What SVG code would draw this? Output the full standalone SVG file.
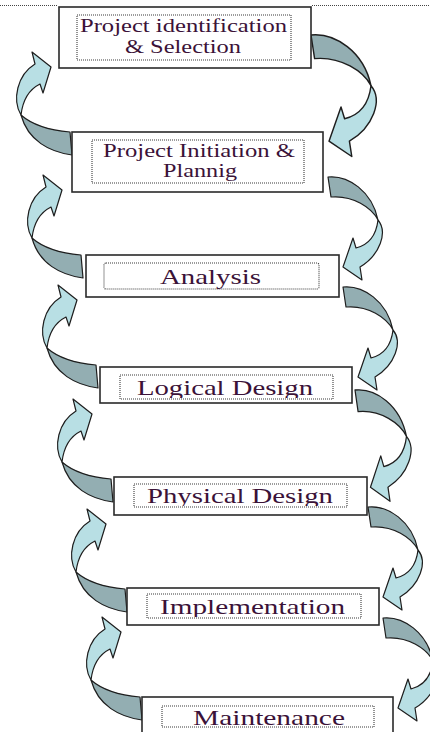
<svg xmlns="http://www.w3.org/2000/svg" width="430" height="732" viewBox="0 0 430 732">
  <style>
    .box { fill: #ffffff; stroke: #2a2a2a; stroke-width: 1.6; }
    .frame { fill: none; stroke: #3a3a3a; stroke-width: 1.1; stroke-dasharray: 1 1; }
    .label { font-family: "Liberation Serif", "Times New Roman", serif; fill: #3b1238; text-anchor: start; }
    .back { fill: #93aeb2; stroke: #1e1e1e; stroke-width: 1.2; stroke-linejoin: round; }
    .front { fill: #b8dfe4; stroke: #1e1e1e; stroke-width: 1.2; stroke-linejoin: round; }
    .rule { stroke: #444; stroke-width: 1; stroke-dasharray: 1 1; }
  </style>
  <defs>
    <!-- curved 3D arrow on the right: leaves a box's right edge, bends down into the next box -->
    <g id="arrowRight">
      <path class="back" d="M0,0 C20,-2 44,14 50,43 C44,31 25,18 3,20 Z"/>
      <path class="front" d="M50,43 C60,55 52,78 32,90 L34,103 L15,90 L25,61 L28,71 C40,68 48,60 50,43 Z"/>
    </g>
    <!-- curved 3D arrow on the left: leaves a box's left edge, bends up into the previous box -->
    <g id="arrowLeft">
      <path class="back" d="M0,0 C-22,-3 -44,-14 -51,-40 C-42,-32 -25,-25 -2,-23 Z"/>
      <path class="front" d="M-51,-40 C-60,-55 -55,-80 -37,-91 L-40,-103 L-21,-88 L-29,-62 L-32,-71 C-42,-66 -49,-57 -51,-40 Z"/>
    </g>
    <clipPath id="clip4"><rect x="120" y="375" width="213" height="23"/></clipPath>
    <clipPath id="clip5"><rect x="134" y="484" width="213" height="22"/></clipPath>
    <clipPath id="clip6"><rect x="147" y="594" width="214" height="23"/></clipPath>
    <clipPath id="clip7"><rect x="162" y="706" width="212" height="21"/></clipPath>
  </defs>

  <rect x="0" y="0" width="430" height="732" fill="#ffffff"/>

  <!-- page rule along the top -->
  <line class="rule" x1="0" y1="5.5" x2="58" y2="5.5"/>
  <line class="rule" x1="312" y1="5.5" x2="430" y2="5.5"/>

  <g id="connectors">
    <use href="#arrowRight" transform="translate(311,35) scale(1.2,1.18)"/>
    <use href="#arrowRight" transform="translate(328,177)"/>
    <use href="#arrowRight" transform="translate(343,287)"/>
    <use href="#arrowRight" transform="translate(355,390) scale(1.03,1.08)"/>
    <use href="#arrowRight" transform="translate(368,507)"/>
    <use href="#arrowRight" transform="translate(383,618)"/>

    <use href="#arrowLeft" transform="translate(72,155)"/>
    <use href="#arrowLeft" transform="translate(83,278)"/>
    <use href="#arrowLeft" transform="translate(98,388)"/>
    <use href="#arrowLeft" transform="translate(113,502)"/>
    <use href="#arrowLeft" transform="translate(127,612)"/>
    <use href="#arrowLeft" transform="translate(142,720)"/>
  </g>

  <g id="identification">
    <rect class="box" x="59" y="7" width="252" height="61"/>
    <rect class="frame" x="77" y="15" width="214" height="45"/>
    <text class="label" x="80" y="32" font-size="18" textLength="207" lengthAdjust="spacingAndGlyphs">Project identification</text>
    <text class="label" x="125" y="53" font-size="18" textLength="116" lengthAdjust="spacingAndGlyphs">&amp; Selection</text>
  </g>

  <g id="initiation">
    <rect class="box" x="72" y="132" width="251" height="60"/>
    <rect class="frame" x="92" y="140" width="212" height="43"/>
    <text class="label" x="103" y="157" font-size="18" textLength="192" lengthAdjust="spacingAndGlyphs">Project Initiation &amp;</text>
    <text class="label" x="163" y="177" font-size="18" textLength="74" lengthAdjust="spacingAndGlyphs">Plannig</text>
  </g>

  <g id="analysis">
    <rect class="box" x="86" y="255" width="253" height="42"/>
    <rect class="frame" x="104" y="263" width="215" height="26" rx="2"/>
    <text class="label" x="160" y="284" font-size="22" textLength="101" lengthAdjust="spacingAndGlyphs">Analysis</text>
  </g>

  <g id="logical-design">
    <rect class="box" x="100" y="367" width="252" height="36"/>
    <rect class="frame" x="120" y="375" width="213" height="24"/>
    <text class="label" x="137" y="395" font-size="22" textLength="176" lengthAdjust="spacingAndGlyphs" clip-path="url(#clip4)">Logical Design</text>
  </g>

  <g id="physical-design">
    <rect class="box" x="114" y="477" width="253" height="38"/>
    <rect class="frame" x="134" y="484" width="213" height="23"/>
    <text class="label" x="147" y="503" font-size="22" textLength="186" lengthAdjust="spacingAndGlyphs" clip-path="url(#clip5)">Physical Design</text>
  </g>

  <g id="implementation">
    <rect class="box" x="127" y="588" width="252" height="37"/>
    <rect class="frame" x="147" y="594" width="214" height="24"/>
    <text class="label" x="160" y="614" font-size="22" textLength="185" lengthAdjust="spacingAndGlyphs" clip-path="url(#clip6)">Implementation</text>
  </g>

  <g id="maintenance">
    <rect class="box" x="142" y="697" width="251" height="45"/>
    <rect class="frame" x="162" y="706" width="212" height="21"/>
    <text class="label" x="193" y="725" font-size="22" textLength="152" lengthAdjust="spacingAndGlyphs" clip-path="url(#clip7)">Maintenance</text>
  </g>
</svg>
